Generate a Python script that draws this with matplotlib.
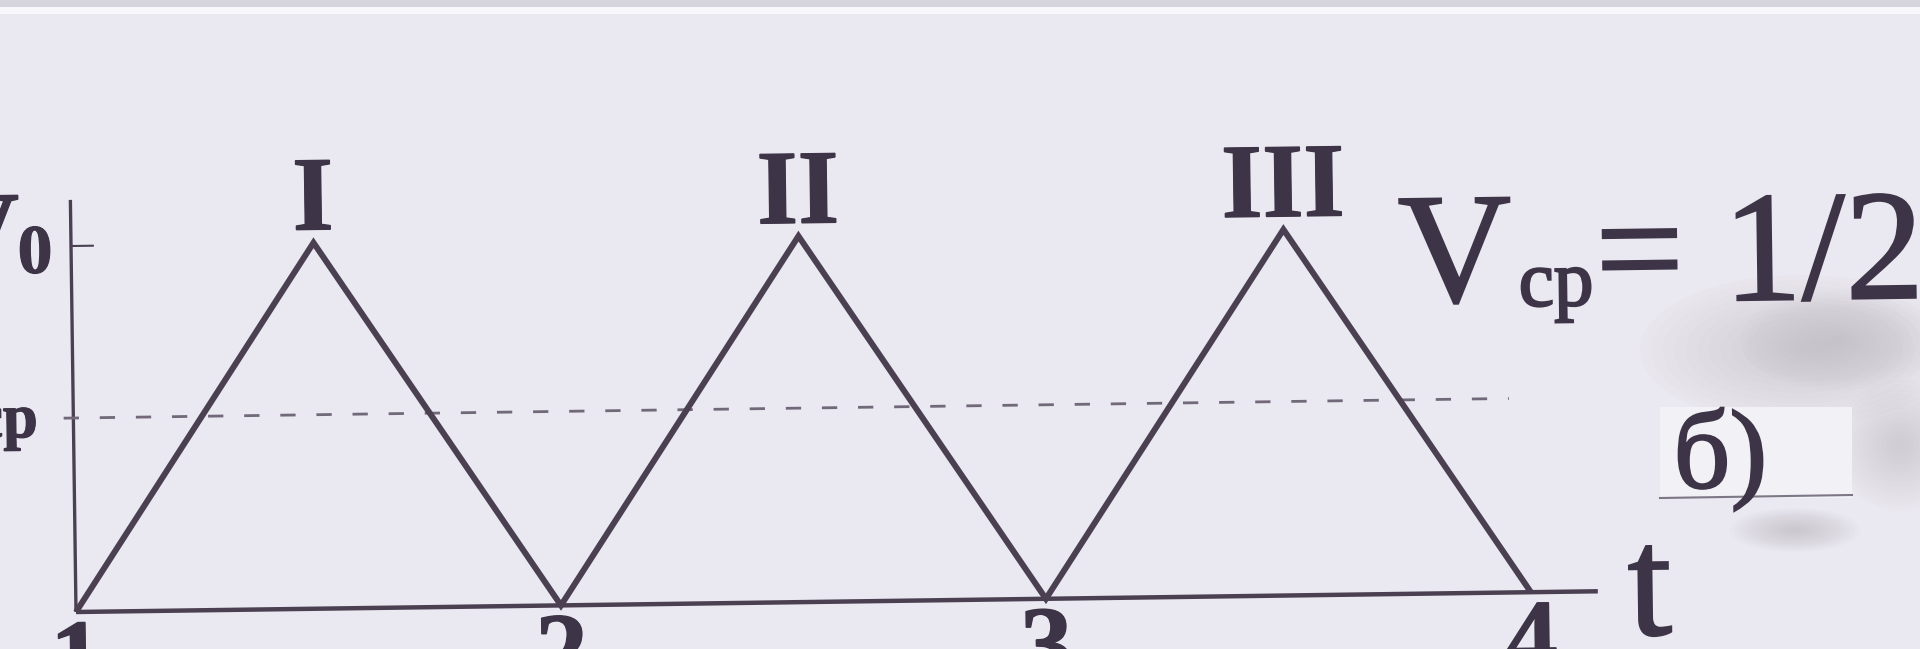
#speed vs time sketch from a scanned textbook page, three "triangles" I, II, III
#the scan is slightly tilted so everything gets rotated a bit
import matplotlib
matplotlib.use("Agg")
import matplotlib.pyplot as plt
import matplotlib.transforms as mtransforms
import matplotlib.patheffects as pe
from matplotlib.patches import Rectangle, Ellipse

t_nodes = [1, 1.5, 2, 2.5, 3, 3.5, 4]
v_nodes = [0, 1, 0, 1, 0, 1, 0]
peak_t = [1.5, 2.5, 3.5]
peak_labels = ["I", "II", "III"]
tick_t = [1, 2, 3, 4]
tick_labels = ["1", "2", "3", "4"]
v_top = 1.0      # V0
v_avg = 0.53     # dashed V_cp line as drawn
t_axis_end = 4.138
v_axis_end = 1.126

paper = "#eae8f0"
ink = "#4a4051"
text_ink = "#3e3447"
W, H = 1920, 649


def px(x, y):
    # reference pixel -> axes fraction (axes fill the whole figure)
    return x / W, 1 - y / H


def smudge(ax, cx, cy, w, h, n=14, color="#bcb9c1", alpha=0.045):
    # soft blob: stack of shrinking ellipses
    for i in range(n):
        k = 1 - i / n
        ax.add_patch(Ellipse(px(cx, cy), w * k / W, h * k / H, transform=ax.transAxes,
                             facecolor=color, edgecolor="none", alpha=alpha))


def main():
    fig = plt.figure(figsize=(19.2, 6.49), dpi=100)
    fig.patch.set_facecolor(paper)
    ax = fig.add_axes([0, 0, 1, 1])
    ax.set_facecolor(paper)
    ax.axis("off")

    tilt = 0.78
    rot = mtransforms.Affine2D().rotate_deg_around(76, 37, tilt)
    tr = ax.transData + rot

    # axes
    ax.plot([1, t_axis_end], [0, 0], color=ink, lw=3.2, transform=tr, solid_capstyle="butt")
    ax.plot([1, 1], [0, v_axis_end], color=ink, lw=2.4, transform=tr, solid_capstyle="butt")
    ax.plot([1, 1.045], [v_top, v_top], color=ink, lw=1.5, transform=tr)

    # the speed graph
    ax.plot(t_nodes, v_nodes, color=ink, lw=4.3, transform=tr,
            solid_joinstyle="miter", solid_capstyle="butt", zorder=3)

    # average speed
    ax.plot([0.98, 3.96], [v_avg, v_avg], color="#716879", lw=2,
            dashes=(5.5, 7.5), transform=tr)

    serif = ["Liberation Serif", "DejaVu Serif"]
    thin = [pe.withStroke(linewidth=0.9, foreground=text_ink, joinstyle="miter")]
    thick = [pe.withStroke(linewidth=1.6, foreground=text_ink, joinstyle="miter")]
    for t, lab in zip(peak_t, peak_labels):
        ax.text(t, v_top + 0.036, lab, transform=tr, ha="center", va="baseline",
                fontsize=76, fontweight="bold", family=serif, color=text_ink,
                rotation=tilt, rotation_mode="anchor", path_effects=thin)
    for t, lab in zip(tick_t, tick_labels):
        ax.text(t, -0.219, lab, transform=tr, ha="center", va="baseline",
                fontsize=76, fontweight="bold", family=serif, color=text_ink,
                rotation=tilt, rotation_mode="anchor", path_effects=thin)
    ax.text(4.20, -0.12, "t", transform=tr, ha="left", va="baseline",
            fontsize=113, family=serif, color=text_ink,
            rotation=tilt, rotation_mode="anchor", path_effects=thick)

    # paper junk: top edge, grey smudge, glued label patch
    ax.add_patch(Rectangle(px(0, 7), 1, 7 / H, transform=ax.transAxes,
                           facecolor="#d6d4dc", edgecolor="none"))
    ax.add_patch(Rectangle(px(0, 14), 1, 7 / H, transform=ax.transAxes,
                           facecolor="#f8f7fb", edgecolor="none"))
    smudge(ax, 1800, 350, 320, 150)
    smudge(ax, 1840, 340, 200, 100)
    smudge(ax, 1900, 445, 130, 130)
    smudge(ax, 1795, 530, 130, 44, alpha=0.06)
    ax.add_patch(Rectangle(px(1660, 498), 192 / W, 91 / H, transform=ax.transAxes,
                           facecolor="#f2f1f6", edgecolor="none"))
    ax.plot([1660 / W, 1852 / W], [1 - 498 / H, 1 - 495 / H], transform=ax.transAxes,
            color="#7d7785", lw=1.5)

    kw = dict(transform=ax.transAxes, va="baseline", family=serif, color=text_ink,
              rotation=tilt, rotation_mode="anchor")
    # cut-off labels on the left
    ax.text(*px(20, 268), "V", ha="right", fontsize=80, fontweight="bold", path_effects=thin, **kw)
    ax.text(*px(18, 273), "0", ha="left", fontsize=50, fontweight="bold", path_effects=thin, **kw)
    ax.text(*px(38, 437), "ср", ha="right", fontsize=45, fontweight="bold", path_effects=thin, **kw)
    # formula on the right
    ax.text(*px(1399, 302), "V", ha="left", fontsize=113, path_effects=thick, **kw)
    ax.text(*px(1519, 306), "ср", ha="left", fontsize=57, path_effects=thick, **kw)
    ax.text(*px(1596, 302), "= 1/2", ha="left", fontsize=113, path_effects=thick, **kw)
    ax.text(*px(1674, 488), "б)", ha="left", fontsize=80, path_effects=thick, **kw)

    ax.set_xlim(0.8433, 4.802)
    ax.set_ylim(-0.1011, 1.672)
    fig.savefig("out.png", dpi=100, facecolor=paper)


if __name__ == "__main__":
    main()
